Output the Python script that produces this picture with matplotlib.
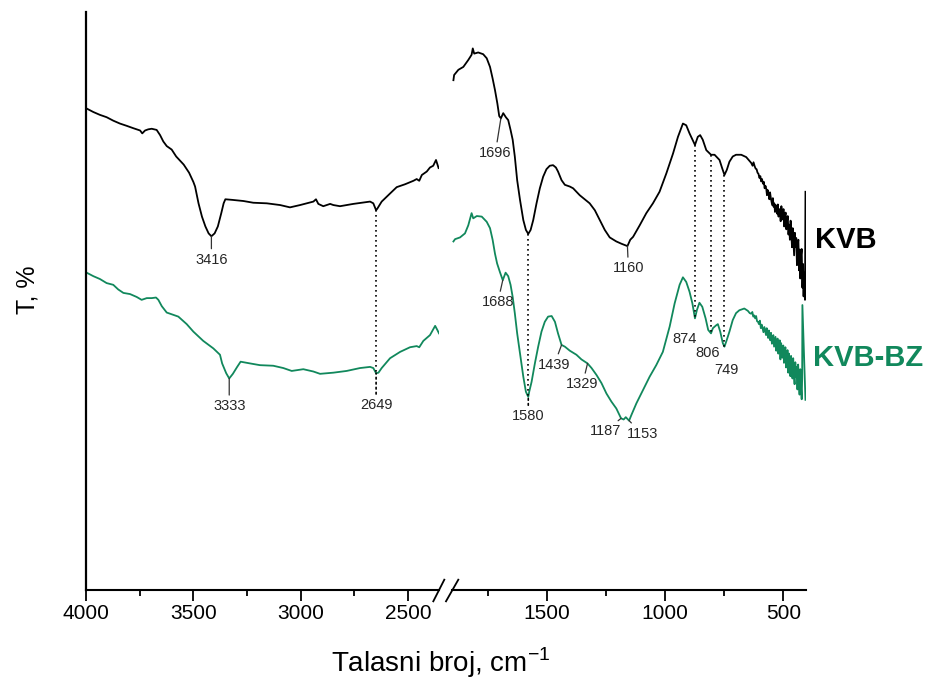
import numpy as np
import matplotlib
matplotlib.use("Agg")
import matplotlib.pyplot as plt
from matplotlib.lines import Line2D
from matplotlib.ticker import MultipleLocator

plt.rcParams['font.family'] = ['Liberation Sans', 'DejaVu Sans']
plt.rcParams['mathtext.fontset'] = 'custom'
plt.rcParams['mathtext.rm'] = 'Liberation Sans'

GREEN = '#11885c'

# ---- spectra, 4000-2350 cm-1 part ----
black_left_wn = [3997, 3966, 3935, 3904, 3873, 3842, 3810, 3780, 3748, 3738, 3725, 3710,
                 3694, 3671, 3655, 3640, 3624, 3601, 3580, 3545, 3520, 3500, 3492, 3476,
                 3460, 3444, 3429, 3416, 3401, 3386, 3370, 3359, 3351, 3320, 3267, 3221,
                 3158, 3096, 3050, 3003, 2941, 2929, 2918, 2895, 2863, 2848, 2817, 2755,
                 2677, 2662, 2649, 2643, 2623, 2584, 2553, 2514, 2475, 2460, 2448, 2436,
                 2413, 2398, 2383, 2370, 2358]
black_left_t = [83.3, 82.7, 82.2, 81.8, 81.2, 80.7, 80.3, 79.9, 79.5, 79.0, 79.5, 79.7,
                79.8, 79.6, 78.7, 77.6, 76.8, 76.2, 75.0, 73.6, 72.2, 70.6, 69.8, 66.9,
                64.6, 62.9, 61.7, 61.2, 61.7, 62.9, 65.2, 66.9, 67.6, 67.5, 67.3, 67.0,
                66.9, 66.6, 66.2, 66.6, 67.2, 67.6, 66.8, 66.4, 66.8, 66.6, 66.4, 66.8,
                67.2, 66.9, 65.7, 66.0, 67.2, 68.6, 69.7, 70.2, 70.8, 71.1, 70.8, 71.8,
                72.4, 73.1, 73.4, 74.4, 73.0]

green_left_wn = [3997, 3966, 3935, 3904, 3873, 3850, 3826, 3795, 3764, 3741, 3717, 3694,
                 3674, 3663, 3647, 3624, 3593, 3570, 3531, 3500, 3454, 3407, 3376, 3366,
                 3347, 3333, 3316, 3296, 3280, 3236, 3190, 3128, 3081, 3042, 2988, 2941,
                 2910, 2848, 2786, 2724, 2677, 2662, 2649, 2638, 2623, 2584, 2537, 2491,
                 2460, 2448, 2429, 2398, 2374, 2364, 2356]
green_left_t = [54.9, 54.3, 53.8, 53.1, 52.8, 52.0, 51.4, 51.2, 50.7, 50.2, 50.5, 50.5,
                50.6, 50.2, 49.1, 48.0, 47.6, 47.3, 46.0, 44.7, 43.1, 41.8, 40.7, 39.2,
                37.5, 36.6, 37.4, 38.6, 39.5, 39.2, 38.9, 38.8, 38.4, 37.9, 38.2, 37.8,
                37.4, 37.6, 37.9, 38.4, 38.6, 38.4, 37.5, 37.6, 38.4, 40.1, 41.2, 42.0,
                42.2, 42.0, 43.1, 44.1, 45.7, 45.0, 44.4]

# ---- spectra, 1900-400 cm-1 part ----
black_right_wn = [1897, 1894, 1876, 1855, 1834, 1820, 1815, 1809, 1792, 1771, 1756, 1742,
                  1731, 1721, 1711, 1703, 1696, 1686, 1675, 1665, 1655, 1646, 1637, 1627,
                  1615, 1601, 1590, 1580, 1570, 1559, 1545, 1531, 1517, 1503, 1489, 1475,
                  1463, 1454, 1439, 1425, 1404, 1390, 1362, 1320, 1298, 1277, 1256, 1235,
                  1207, 1185, 1160, 1148, 1136, 1108, 1080, 1052, 1024, 995, 967, 946,
                  925, 911, 897, 874, 862, 852, 841, 826, 806, 791, 770, 759, 749, 739,
                  728, 714, 700, 678, 657,
                  636, 630, 626, 621, 617, 613, 609, 605, 601, 597, 594, 590, 586, 582,
                  579, 575, 572, 569, 566, 562, 559, 556, 553, 550, 547, 544, 541, 538,
                  535, 532, 529, 526, 523, 520, 517, 514, 511, 508, 505, 502, 499, 496,
                  493, 490, 487, 484, 481, 478, 475, 472, 469, 466, 463, 460, 457, 454,
                  451, 448, 445, 442, 439, 436, 433, 430, 428, 425, 422, 419, 416, 414,
                  412, 410, 408, 406]
black_right_t = [88.2, 89.1, 90.0, 90.5, 91.7, 92.6, 93.7, 92.8, 93.0, 92.7, 92.0, 90.5,
                 88.5, 86.5, 84.2, 82.0, 81.6, 82.5, 81.8, 81.3, 79.6, 77.9, 75.0, 70.9,
                 67.5, 64.0, 62.3, 61.6, 62.3, 64.0, 66.9, 69.5, 71.5, 72.8, 73.4, 73.5,
                 73.1, 72.4, 70.9, 70.1, 69.8, 69.5, 68.3, 66.9, 65.7, 64.0, 62.3, 61.0,
                 60.3, 59.9, 59.5, 60.6, 61.1, 63.1, 65.2, 66.9, 68.9, 72.1, 75.5, 78.4,
                 80.7, 80.4, 79.0, 77.0, 78.4, 78.7, 77.9, 76.1, 75.3, 75.3, 74.4, 73.0, 71.8, 72.7,
                 74.1, 75.0, 75.3, 75.3, 74.9,
                 73.9, 73.4, 74.0, 73.3, 72.9, 72.8, 72.2, 72.0, 71.3, 71.6, 70.7, 71.1, 70.3,
                 70.6, 69.5, 69.9, 69.4, 68.3, 69.2, 68.6, 67.6, 68.8, 67.9, 67.2, 66.6, 67.8,
                 66.3, 66.9, 65.4, 66.6, 66.0, 65.1, 66.7, 64.6, 65.9, 65.3, 63.8, 66.4, 64.9,
                 64.1, 65.9, 62.9, 64.6, 65.3, 62.4, 63.8, 64.7, 61.5, 63.2, 60.6, 63.9, 61.8,
                 59.3, 62.6, 60.1, 57.9, 61.8, 59.4, 60.9, 56.2, 59.8, 60.6, 55.3, 58.9, 53.9,
                 57.8, 59.0, 52.3, 56.4, 50.8, 54.9, 52.0, 50.2, 68.9]

green_right_wn = [1897, 1890, 1869, 1848, 1834, 1820, 1813, 1798, 1777, 1756, 1742, 1731,
                  1721, 1712, 1700, 1688, 1676, 1665, 1655, 1646, 1637, 1627, 1615, 1601,
                  1590, 1580, 1576, 1566, 1552, 1538, 1524, 1510, 1496, 1481, 1467, 1454,
                  1439, 1425, 1404, 1376, 1355, 1329, 1312, 1291, 1270, 1249, 1228, 1207,
                  1187, 1176, 1167, 1153, 1143, 1122, 1094, 1066, 1038, 1010, 981, 960,
                  939, 925, 911, 897, 885, 874, 866, 855, 843, 829, 818, 806, 798, 784,
                  777, 767, 756, 749, 739, 728, 714, 700, 686, 665,
                  650, 642, 636, 631, 627, 623, 619, 615, 611, 607, 603, 599, 595, 591,
                  587, 584, 580, 577, 573, 570, 567, 564, 561, 558, 555, 552, 548, 545,
                  542, 539, 536, 533, 530, 527, 524, 521, 518, 515, 512, 509, 506, 503,
                  500, 497, 494, 491, 488, 485, 482, 479, 476, 473, 470, 467, 464, 461,
                  458, 455, 452, 449, 446, 443, 440, 437, 434, 431, 428, 425, 422, 420,
                  419, 406]
green_right_t = [60.3, 60.7, 61.0, 61.7, 63.1, 65.2, 64.3, 64.7, 64.6, 63.7, 62.6, 60.6,
                 58.2, 56.5, 55.0, 53.6, 54.9, 54.3, 52.8, 50.7, 47.9, 44.4, 40.9, 36.9,
                 34.3, 33.4, 34.3, 36.0, 39.2, 42.1, 44.7, 46.4, 47.3, 47.4, 46.4, 44.4,
                 42.4, 42.1, 41.4, 40.7, 39.9, 39.2, 38.4, 37.2, 35.8, 34.0, 32.6, 31.4,
                 29.7, 29.5, 29.9, 29.3, 30.3, 32.3, 34.6, 36.9, 38.9, 41.2, 45.6, 49.6,
                 52.8, 54.1, 53.3, 51.6, 49.6, 47.0, 48.4, 49.7, 49.0, 47.0, 45.0, 44.4, 45.3, 45.8,
                 46.0, 44.7, 42.7, 42.1, 43.3, 44.7, 46.7, 47.9, 48.4, 48.7,
                 48.3, 47.9, 47.8, 48.1, 47.3, 47.5, 47.0, 47.4, 46.5, 46.4, 46.0, 46.6, 45.3, 45.9,
                 45.2, 44.6, 45.5, 44.9, 44.1, 45.3, 44.4, 43.6, 44.9, 43.9, 43.2, 44.5, 42.6, 43.7,
                 44.1, 42.1, 43.0, 43.8, 41.4, 42.9, 43.5, 40.9, 42.2, 43.2, 39.9, 42.7, 41.1, 40.2,
                 42.3, 39.3, 41.0, 42.0, 38.5, 40.2, 41.5, 37.6, 40.9, 39.4, 37.0, 40.5, 38.3, 36.6,
                 40.1, 37.2, 35.6, 39.4, 36.8, 38.6, 34.7, 39.0, 36.0, 33.8, 38.2, 35.2, 33.0, 36.6,
                 49.3, 32.9]

# marked bands
kvb_bands = [3416, 1696, 1160]
kvbbz_bands = [3333, 2649, 1688, 1580, 1439, 1329, 1187, 1153, 874, 806, 749]
shared_bands = [2649, 1580, 874, 806, 749]

# label offsets (points) and kind of leader line
label_style = {
    ('kvb', 3416): (0, -17, 'solid'),
    ('kvb', 1696): (-4, -25, 'solid'),
    ('kvb', 1160): (0.7, -16, 'solid'),
    ('bz', 3333): (0, -20, 'solid'),
    ('bz', 2649): (0, -23, 'dot'),
    ('bz', 1688): (-3.6, -16, 'solid'),
    ('bz', 1580): (0, -14, 'dot'),
    ('bz', 1439): (-5.3, -14.4, 'solid'),
    ('bz', 1329): (-3.6, -15, 'solid'),
    ('bz', 1187): (-11.5, -9.4, 'solid'),
    ('bz', 1153): (9.4, -9.4, 'solid'),
    ('bz', 874): (-7.2, -15, None),
    ('bz', 806): (-2.2, -14.4, None),
    ('bz', 749): (1.4, -16.5, None),
}


def value_at(wn, xs, ys):
    xs = np.asarray(xs)[::-1]
    ys = np.asarray(ys)[::-1]
    return float(np.interp(wn, xs, ys))


fig = plt.figure(figsize=(9.29, 6.86), dpi=100)
bottom, height = 96 / 686, 578 / 686
ax1 = fig.add_axes([86 / 929, bottom, (438.8 - 86) / 929, height])
ax2 = fig.add_axes([452 / 929, bottom, (805.7 - 452) / 929, height])

line_kw = dict(lw=1.3, solid_joinstyle='round')
ax1.plot(black_left_wn, black_left_t, color='black', **line_kw)
ax1.plot(green_left_wn, green_left_t, color=GREEN, **line_kw)
ax2.plot(black_right_wn, black_right_t, color='black', **line_kw)
ax2.plot(green_right_wn, green_right_t, color=GREEN, **line_kw)

ax1.set_xlim(4000, 2357)
ax2.set_xlim(1903, 405)
for ax in (ax1, ax2):
    ax.set_ylim(0, 100)
    ax.set_yticks([])
    ax.spines['top'].set_visible(False)
    ax.spines['right'].set_visible(False)
    ax.spines['bottom'].set_linewidth(1.5)
    ax.xaxis.set_major_locator(MultipleLocator(500))
    ax.xaxis.set_minor_locator(MultipleLocator(250))
    ax.tick_params(axis='x', which='major', length=8, width=1.3, labelsize=15, pad=2)
    ax.tick_params(axis='x', which='minor', length=4, width=1.3)
ax1.spines['left'].set_linewidth(1.6)
ax2.spines['left'].set_visible(False)


def series_for(ax, name):
    if ax is ax1:
        return (black_left_wn, black_left_t) if name == 'kvb' else (green_left_wn, green_left_t)
    return (black_right_wn, black_right_t) if name == 'kvb' else (green_right_wn, green_right_t)


# dotted guides between the two spectra
dotted = (0, (1, 2))
for wn in shared_bands:
    ax = ax1 if wn > 2000 else ax2
    tb = value_at(wn, *series_for(ax, 'kvb'))
    tg = value_at(wn, *series_for(ax, 'bz'))
    ax.plot([wn, wn], [tb, tg], color='black', lw=1.2, linestyle=dotted)

# band labels
for name, bands in (('kvb', kvb_bands), ('bz', kvbbz_bands)):
    for wn in bands:
        ax = ax1 if wn > 2000 else ax2
        t = value_at(wn, *series_for(ax, name))
        dx, dy, lead = label_style[(name, wn)]
        props = None
        if lead == 'solid':
            props = dict(arrowstyle='-', lw=0.9, color='#333333', shrinkA=1, shrinkB=0)
        elif lead == 'dot':
            props = dict(arrowstyle='-', lw=1.2, color='black', linestyle=dotted,
                         shrinkA=1, shrinkB=0)
        ax.annotate(str(wn), xy=(wn, t), xytext=(dx, dy), textcoords='offset points',
                    ha='center', va='center', fontsize=10.5, color='#262626',
                    arrowprops=props)

# axis break marks
for x0, x1 in ((433.3, 444.3), (446.0, 458.3)):
    fig.add_artist(Line2D([x0 / 929, x1 / 929], [1 - 601.3 / 686, 1 - 579.7 / 686],
                          color='black', lw=1.3, transform=fig.transFigure))

fig.text(815 / 929, 1 - 240 / 686, 'KVB', fontsize=21, fontweight='bold',
         color='black', ha='left', va='center')
fig.text(813 / 929, 1 - 358 / 686, 'KVB-BZ', fontsize=21, fontweight='bold',
         color=GREEN, ha='left', va='center')

fig.text(441 / 929, 1 - 663 / 686, r'Talasni broj, cm$^{-1}$', fontsize=20,
         ha='center', va='center')
fig.text(28 / 929, 1 - 290 / 686, 'T, %', fontsize=18, rotation=90,
         ha='center', va='center')

fig.savefig('out.png', dpi=100)
